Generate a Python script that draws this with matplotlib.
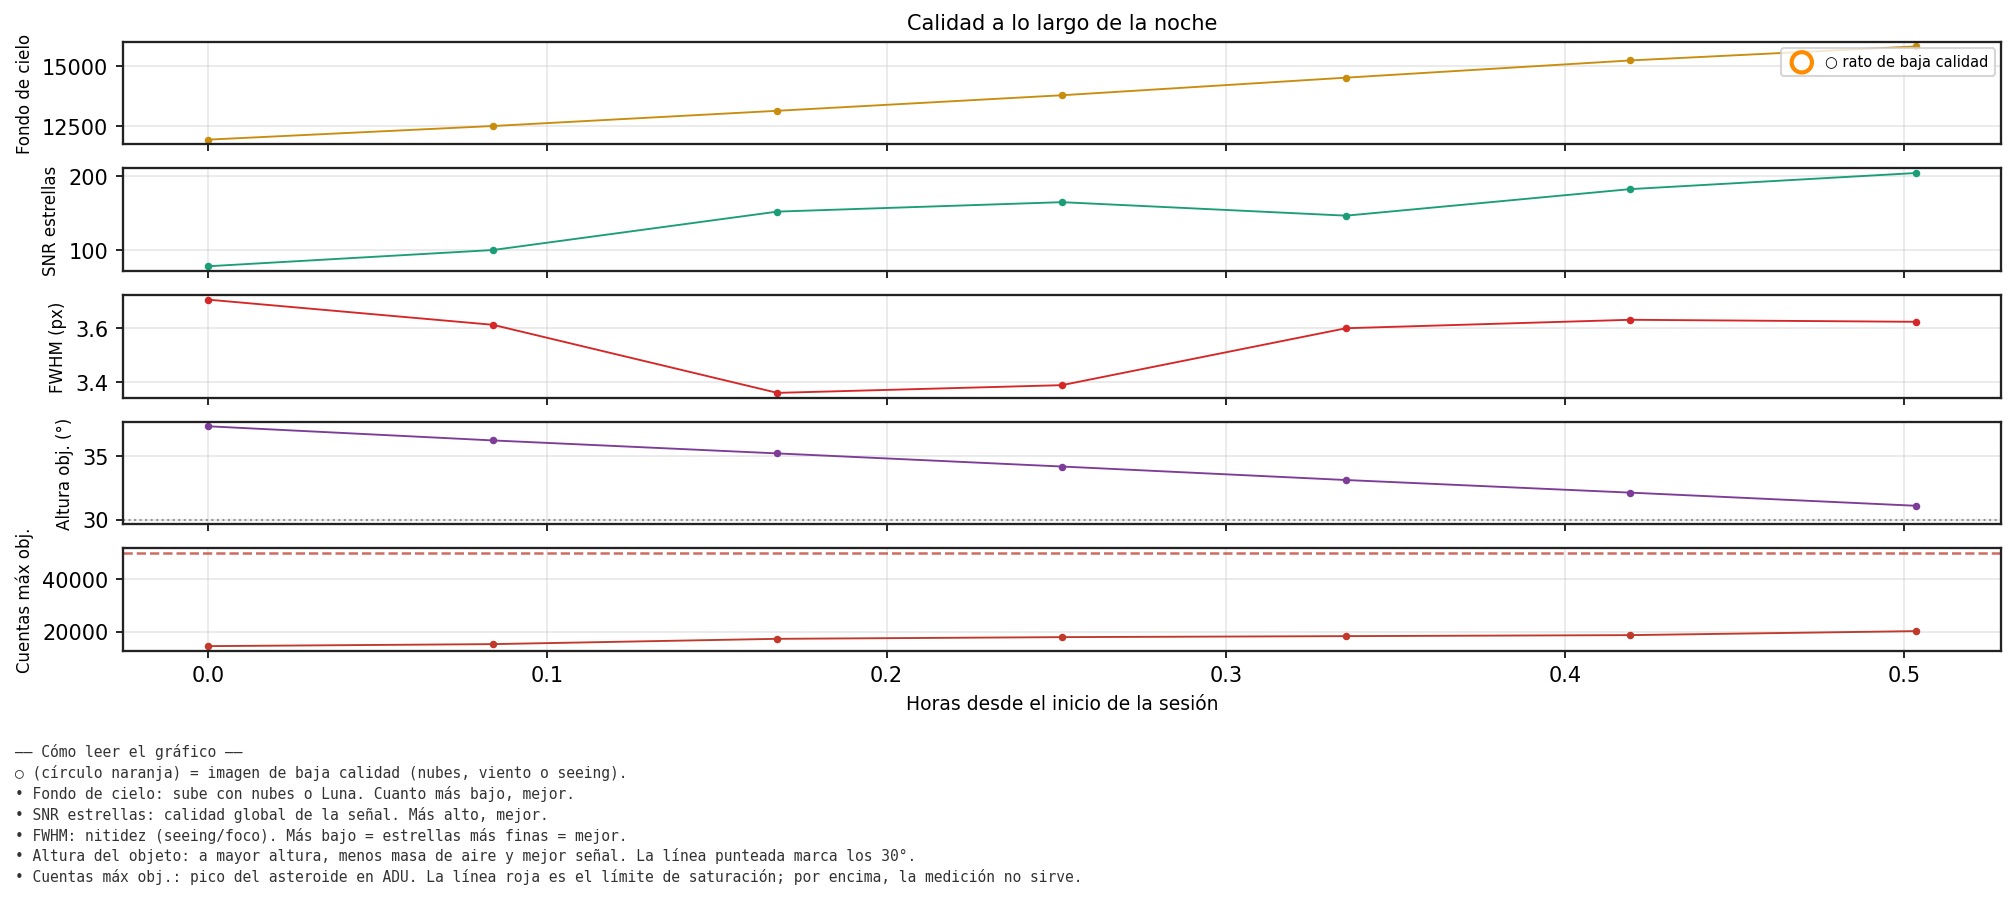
import numpy as np
import matplotlib
matplotlib.use("Agg")
import matplotlib.pyplot as plt

# horas desde el inicio de la sesion
horas = [0.0, 0.0839, 0.1678, 0.2517, 0.3355, 0.4193, 0.5034]

fondo_cielo = [11955, 12516, 13143, 13783, 14508, 15217, 15795]
snr_estrellas = [78.2, 100.2, 152.3, 165.1, 146.8, 182.8, 204.6]
fwhm_px = [3.7066, 3.6128, 3.3587, 3.3875, 3.600, 3.6315, 3.624]
altura_obj = [37.32, 36.21, 35.19, 34.16, 33.10, 32.11, 31.08]
cuentas_max = [14460, 15220, 17230, 17870, 18250, 18630, 20150]

altura_min = 30
saturacion = 49800

paneles = [
    ("Fondo de cielo", fondo_cielo, "#c98d0e"),
    ("SNR estrellas", snr_estrellas, "#1b9e77"),
    ("FWHM (px)", fwhm_px, "#d62728"),
    ("Altura obj. (°)", altura_obj, "#7d3c98"),
    ("Cuentas máx obj.", cuentas_max, "#c0392b"),
]

nota = (
    "—— Cómo leer el gráfico ——\n"
    "○ (círculo naranja) = imagen de baja calidad (nubes, viento o seeing).\n"
    "• Fondo de cielo: sube con nubes o Luna. Cuanto más bajo, mejor.\n"
    "• SNR estrellas: calidad global de la señal. Más alto, mejor.\n"
    "• FWHM: nitidez (seeing/foco). Más bajo = estrellas más finas = mejor.\n"
    "• Altura del objeto: a mayor altura, menos masa de aire y mejor señal. La línea punteada marca los 30°.\n"
    "• Cuentas máx obj.: pico del asteroide en ADU. La línea roja es el límite de saturación; por encima, la medición no sirve."
)

fig, axes = plt.subplots(5, 1, sharex=True, figsize=(13.44, 5.993), dpi=150)
fig.subplots_adjust(left=0.061, right=0.9925, top=0.9525, bottom=0.275, hspace=0.235)

for ax, (etiqueta, valores, color) in zip(axes, paneles):
    ax.plot(horas, valores, "-o", color=color, lw=0.9, ms=2.6)
    ax.set_ylabel(etiqueta, fontsize=8)
    ax.grid(True, color="#cccccc", alpha=0.45, lw=0.8)
    for s in ax.spines.values():
        s.set_color("#222222")
        s.set_linewidth(1.1)

axes[0].set_title("Calidad a lo largo de la noche", fontsize=10)
axes[0].scatter([], [], s=95, facecolors="none", edgecolors="darkorange",
                linewidths=2, label="○ rato de baja calidad")
axes[0].legend(loc="upper right", fontsize=7, borderpad=0.45, handletextpad=0.6,
               borderaxespad=0.4)

axes[3].axhline(altura_min, color="gray", ls=":", lw=1, alpha=0.8)
axes[4].axhline(saturacion, color="#c0392b", ls="--", lw=1.2, alpha=0.75)

axes[-1].set_xlabel("Horas desde el inicio de la sesión", fontsize=9)

fig.text(0.0075, 0.172, nota, ha="left", va="top", fontsize=7, linespacing=1.37,
         family="DejaVu Sans Mono", color="#333333")

fig.savefig("out.png", dpi=150)
